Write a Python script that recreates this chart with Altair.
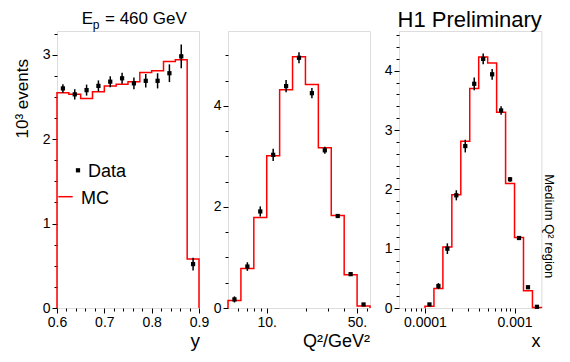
import altair as alt
import pandas as pd

FONT = "Liberation Sans"
RED = "#ff0000"

# ---------------- data ----------------
# panel 1 : y
y_edges = [0.600, 0.625, 0.650, 0.675, 0.700, 0.725, 0.750, 0.775, 0.800, 0.825, 0.850, 0.875, 0.900]
y_mc = [2.55, 2.53, 2.48, 2.56, 2.63, 2.65, 2.68, 2.79, 2.81, 2.92, 2.94, 0.58]
y_data = [2.60, 2.53, 2.58, 2.63, 2.68, 2.72, 2.66, 2.69, 2.69, 2.78, 2.98, 0.52]
y_err = [0.05, 0.06, 0.065, 0.065, 0.065, 0.065, 0.07, 0.08, 0.09, 0.105, 0.14, 0.075]

# panel 2 : Q2
q_edges = [5.012, 6.310, 7.943, 10.0, 12.59, 15.85, 19.95, 25.12, 31.62, 39.81, 50.12, 63.10]
q_mc = [0.15, 0.78, 1.79, 3.01, 4.32, 4.97, 4.42, 3.17, 1.83, 0.66, 0.04]
q_data = [0.17, 0.82, 1.91, 3.03, 4.39, 4.95, 4.25, 3.12, 1.82, 0.67, 0.07]
q_err = [0.06, 0.085, 0.10, 0.12, 0.12, 0.11, 0.10, 0.07, 0.04, 0.03, 0.02]

# panel 3 : x
x_edges = [1.0e-4, 1.259e-4, 1.585e-4, 1.995e-4, 2.512e-4, 3.162e-4, 3.981e-4, 5.012e-4,
           6.310e-4, 7.943e-4, 1.0e-3, 1.259e-3, 1.585e-3, 1.995e-3]
x_mc = [0.03, 0.33, 1.03, 1.91, 2.81, 3.70, 4.23, 4.13, 3.30, 2.10, 1.19, 0.29, 0.01]
x_data = [0.06, 0.37, 1.00, 1.90, 2.73, 3.78, 4.20, 3.94, 3.33, 2.17, 1.18, 0.35, 0.02]
x_err = [0.02, 0.05, 0.09, 0.085, 0.107, 0.107, 0.09, 0.09, 0.07, 0.04, 0.03, 0.02, 0.01]

# axis ticks / labels
p1_xticks = [0.6, 0.62, 0.64, 0.66, 0.68, 0.7, 0.72, 0.74, 0.76, 0.78, 0.8, 0.82, 0.84, 0.86, 0.88, 0.9]
p1_xmajor = [0.6, 0.7, 0.8, 0.9]
p1_xlabels = ["0.6", "0.7", "0.8", "0.9"]
p1_yticks = [0, 0.25, 0.5, 0.75, 1, 1.25, 1.5, 1.75, 2, 2.25, 2.5, 2.75, 3, 3.25]
p1_ymajor = [0, 1, 2, 3]
p1_ylabels = ["0", "1", "2", "3"]

p2_xticks = [6, 7, 8, 9, 10, 20, 30, 40, 50, 60]
p2_xmajor = [10, 50]
p2_xlabels = ["10.", "50."]
p2_yticks = [0, 0.5, 1, 1.5, 2, 2.5, 3, 3.5, 4, 4.5, 5]
p2_ymajor = [0, 2, 4]
p2_ylabels = ["0", "2", "4"]

p3_xticks = [6e-5, 7e-5, 8e-5, 9e-5, 1e-4, 2e-4, 3e-4, 4e-4, 5e-4, 6e-4, 7e-4, 8e-4, 9e-4, 1e-3]
p3_xmajor = [1e-4, 1e-3]
p3_xlabels = ["0.0001", "0.001"]
p3_yticks = [0, 0.2, 0.4, 0.6, 0.8, 1, 1.2, 1.4, 1.6, 1.8, 2, 2.2, 2.4, 2.6, 2.8, 3,
             3.2, 3.4, 3.6, 3.8, 4, 4.2, 4.4, 4.6]
p3_ymajor = [0, 1, 2, 3, 4]
p3_ylabels = ["0", "1", "2", "3", "4"]

W, H = 142, 277


def hist_df(edges, vals):
    pts = [(edges[0], 0.0)]
    for i, v in enumerate(vals):
        pts.append((edges[i], v))
        pts.append((edges[i + 1], v))
    pts.append((edges[-1], 0.0))
    return pd.DataFrame({"x": [p[0] for p in pts], "v": [p[1] for p in pts],
                         "o": list(range(len(pts)))})


def pts_df(edges, vals, errs, log=False):
    xc = []
    for i in range(len(vals)):
        a, b = edges[i], edges[i + 1]
        xc.append((a * b) ** 0.5 if log else (a + b) / 2)
    return pd.DataFrame({"xc": xc, "v": vals,
                         "lo": [v - e for v, e in zip(vals, errs)],
                         "hi": [v + e for v, e in zip(vals, errs)]})


def lab_expr(vals, labels):
    s = "''"
    for v, l in reversed(list(zip(vals, labels))):
        s = f"datum.value === {v!r} ? '{l}' : ({s})"
    return s


def axis(ticks, major, labels, orient):
    test = "indexof(" + str(list(major)) + ", datum.value) >= 0"
    return alt.Axis(values=ticks, labelExpr=lab_expr(major, labels), title="",
                    orient=orient, grid=False, domain=False, labelFlush=False,
                    labelOverlap=False,
                    tickSize={"condition": {"test": test, "value": 5}, "value": 3},
                    tickColor="black", tickWidth=1, labelPadding=2,
                    labelFont=FONT, labelFontSize=14, labelColor="black")


def txt(s, x, y, size, align="left", baseline="alphabetic", angle=0):
    return alt.Chart(pd.DataFrame({"t": [s]})).mark_text(
        text=s, font=FONT, fontSize=size, color="black", align=align,
        baseline=baseline, angle=angle).encode(x=alt.value(x), y=alt.value(y))


def panel(edges, mc, data, err, xscale, yscale, xax, yax, extras, log=False, w=W):
    hdf = hist_df(edges, mc)
    pdf = pts_df(edges, data, err, log)
    X = lambda f: alt.X(f, type="quantitative", scale=xscale, axis=xax)
    Y = lambda f: alt.Y(f, type="quantitative", scale=yscale, axis=yax)
    line = alt.Chart(hdf).mark_line(color=RED, strokeWidth=1.5).encode(
        x=X("x"), y=Y("v"), order=alt.Order("o:Q"))
    bars = alt.Chart(pdf).mark_rule(color="black", strokeWidth=1.5).encode(
        x=X("xc"), y=Y("lo"), y2="hi")
    dots = alt.Chart(pdf).mark_square(size=18, color="black", opacity=1, filled=True).encode(
        x=X("xc"), y=Y("v"))
    return alt.layer(line, bars, dots, *extras).properties(width=w, height=H)


# legend pieces
leg_dot = alt.Chart(pd.DataFrame({"a": [0]})).mark_square(
    size=18, color="black", opacity=1, filled=True).encode(x=alt.value(21), y=alt.value(139.3))
leg_line = alt.Chart(pd.DataFrame({"a": [0]})).mark_rule(color=RED, strokeWidth=1.5).encode(
    x=alt.value(1.3), x2=alt.value(15.7), y=alt.value(165.7))

p1 = panel(y_edges, y_mc, y_data, y_err,
           alt.Scale(domain=[0.6, 0.9], nice=False, zero=False),
           alt.Scale(domain=[0, 3.28], nice=False),
           axis(p1_xticks, p1_xmajor, p1_xlabels, "bottom"),
           axis(p1_yticks, p1_ymajor, p1_ylabels, "left"),
           [leg_dot, leg_line,
            txt("Data", 31, 145.7, 18),
            txt("MC", 24, 173.3, 18),
            txt("E", 24.7, -7, 17),
            txt("p", 35.7, -2.5, 12),
            txt("= 460 GeV", 48, -7, 17),
            txt("10³ events", -28.7, 67.8, 17, align="center", angle=270),
            txt("y", 143, 316, 19, align="right")])

p2 = panel(q_edges, q_mc, q_data, q_err,
           alt.Scale(type="log", domain=[5.012, 63.1], nice=False),
           alt.Scale(domain=[0, 5.48], nice=False),
           axis(p2_xticks, p2_xmajor, p2_xlabels, "bottom"),
           axis(p2_yticks, p2_ymajor, p2_ylabels, "left"),
           [txt("Q²/GeV²", 142, 316.4, 18, align="right")], log=True)

p3 = panel(x_edges, x_mc, x_data, x_err,
           alt.Scale(type="log", domain=[5.1286e-5, 1.995e-3], nice=False),
           alt.Scale(domain=[0, 4.67], nice=False),
           axis(p3_xticks, p3_xmajor, p3_xlabels, "bottom"),
           axis(p3_yticks, p3_ymajor, p3_ylabels, "left"),
           [txt("H1 Preliminary", 70.7, -4, 22, align="center"),
            txt("x", 141.4, 316, 18, align="right"),
            txt("Medium Q² region", 146.2, 195.3, 13, align="center", angle=90)],
           log=True, w=142.4)

chart = alt.hconcat(p1, p2, p3, spacing=29, bounds="flush").properties(
    padding={"left": 5, "top": 0, "right": 0, "bottom": 0}
).configure_view(stroke="black", strokeWidth=1).configure(background="white")

chart.save("out.html", embed_options={"renderer": "svg", "actions": False})
